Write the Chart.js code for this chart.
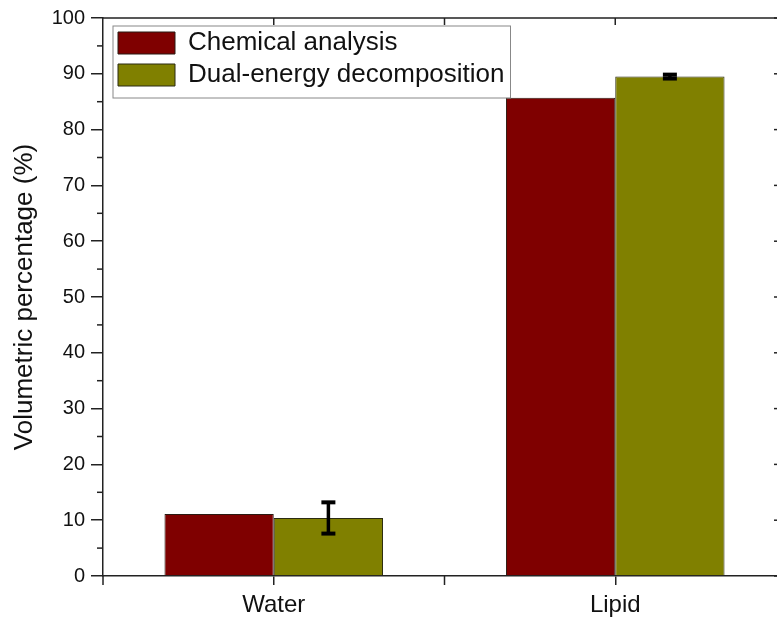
<!DOCTYPE html>
<html>
<head>
<meta charset="utf-8">
<title>Volumetric percentage</title>
<script src="https://cdn.jsdelivr.net/npm/chart.js@4.4.1/dist/chart.umd.min.js"></script>
<style>
	html, body { margin: 0; padding: 0; background: #fff; overflow: hidden; }
	#wrap { width: 777px; height: 624px; overflow: hidden; }
</style>
</head>
<body>
<div id="wrap"><canvas id="myChart" width="800" height="624"></canvas></div>
<script>
// Data
const categories = ["Water", "Lipid"];
const chemicalAnalysis = [11.1, 85.7];
const dualEnergy = [10.4, 89.5];
const dualEnergyError = [2.8, 0.35];
const yMin = 0;
const yMax = 100;
const yStep = 10;

document.addEventListener("DOMContentLoaded", function () {
	const font = "'Liberation Sans', Arial, sans-serif";
	const axisColor = "#222";
	const textColor = "#111";
	const legendSize = 26;

	function line(ctx, x1, y1, x2, y2) {
		ctx.beginPath();
		ctx.moveTo(x1, y1);
		ctx.lineTo(x2, y2);
		ctx.stroke();
	}

	// Origin-style frame, minor ticks, error bars, legend box
	const framePlugin = {
		id: "frame",
		afterLayout(chart) {
			const lg = chart.legend;
			const w = lg.width, h = lg.height;
			lg.left = chart.chartArea.left + 9;
			lg.top = chart.chartArea.top + 6;
			lg.right = lg.left + w;
			lg.bottom = lg.top + h;
		},
		afterDatasetsDraw(chart) {
			const ctx = chart.ctx;
			const y = chart.scales.y;
			const meta = chart.getDatasetMeta(1);
			ctx.save();
			ctx.strokeStyle = "#000";
			meta.data.forEach((bar, i) => {
				const hi = y.getPixelForValue(dualEnergy[i] + dualEnergyError[i]);
				const lo = y.getPixelForValue(dualEnergy[i] - dualEnergyError[i]);
				ctx.lineWidth = 3.5;
				line(ctx, bar.x, hi, bar.x, lo);
				ctx.lineWidth = 4;
				line(ctx, bar.x - 7, hi, bar.x + 7, hi);
				line(ctx, bar.x - 7, lo, bar.x + 7, lo);
			});
			ctx.restore();
		},
		afterDraw(chart) {
			const ctx = chart.ctx;
			const { left, right, top, bottom } = chart.chartArea;
			const x = chart.scales.x;
			const y = chart.scales.y;
			ctx.save();
			ctx.strokeStyle = axisColor;
			ctx.lineWidth = 1.5;

			// top and right borders
			ctx.beginPath();
			ctx.moveTo(left, top);
			ctx.lineTo(right, top);
			ctx.lineTo(right, bottom);
			ctx.stroke();

			// y minor ticks (left, outward) and right-side inward ticks
			for (let v = yMin; v <= yMax; v += yStep / 2) {
				const py = y.getPixelForValue(v);
				if (v % yStep === 0) {
					line(ctx, right - 12, py, right, py);
				} else {
					line(ctx, left - 6, py, left, py);
					line(ctx, right - 6, py, right, py);
				}
			}

			// x ticks: edges and between the categories
			const mid = (x.getPixelForTick(0) + x.getPixelForTick(1)) / 2;
			[left, mid, right].forEach((px) => line(ctx, px, bottom, px, bottom + 9));
			[mid, x.getPixelForTick(0), x.getPixelForTick(1)].forEach((px) => line(ctx, px, top, px, top + 7));

			// legend frame
			const lg = chart.legend;
			ctx.font = legendSize + "px " + font;
			let textW = 0;
			chart.data.datasets.forEach((ds) => {
				textW = Math.max(textW, ctx.measureText(ds.label).width);
			});
			ctx.strokeStyle = "#888";
			ctx.lineWidth = 1;
			ctx.strokeRect(lg.left + 1, lg.top + 2, 5 + 57 + legendSize / 2 + textW + 6, 72);
			ctx.restore();
		},
	};

	const config = {
		type: "bar",
		data: {
			labels: categories,
			datasets: [
				{
					label: "Chemical analysis",
					data: chemicalAnalysis,
					backgroundColor: "#7f0000",
					borderColor: "#2b1a12",
					borderWidth: 1,
					categoryPercentage: 0.64,
					barPercentage: 1,
				},
				{
					label: "Dual-energy decomposition",
					data: dualEnergy,
					backgroundColor: "#808000",
					borderColor: "#2b2b12",
					borderWidth: 1,
					categoryPercentage: 0.64,
					barPercentage: 1,
				},
			],
		},
		options: {
			responsive: false,
			animation: false,
			layout: { padding: { left: 0, right: 14, top: 18, bottom: 0 } },
			plugins: {
				tooltip: { enabled: false },
				legend: {
					position: "chartArea",
					align: "start",
					labels: {
						boxWidth: 57,
						boxHeight: 22,
						padding: 6,
						color: textColor,
						font: { family: font, size: legendSize },
					},
				},
			},
			scales: {
				x: {
					offset: true,
					ticks: { color: textColor, padding: 6, font: { family: font, size: 24 } },
					grid: {
						offset: false,
						drawOnChartArea: false,
						drawTicks: true,
						tickLength: 9,
						color: axisColor,
						lineWidth: 1.5,
					},
					border: { display: true, color: axisColor, width: 1.5 },
					afterFit(scale) {
						scale.height = 48;
					},
				},
				y: {
					min: yMin,
					max: yMax,
					ticks: { stepSize: yStep, padding: 6, color: textColor, font: { family: font, size: 20 } },
					grid: {
						drawOnChartArea: false,
						drawTicks: true,
						tickLength: 12,
						color: axisColor,
						lineWidth: 1.5,
					},
					border: { display: true, color: axisColor, width: 1.5 },
					title: {
						display: true,
						text: "Volumetric percentage (%)",
						color: textColor,
						font: { family: font, size: 26 },
						padding: { top: 9, bottom: 0 },
					},
					afterFit(scale) {
						scale.width = 103;
					},
				},
			},
		},
		plugins: [framePlugin],
	};

	new Chart(document.getElementById("myChart"), config);
});
</script>
</body>
</html>
